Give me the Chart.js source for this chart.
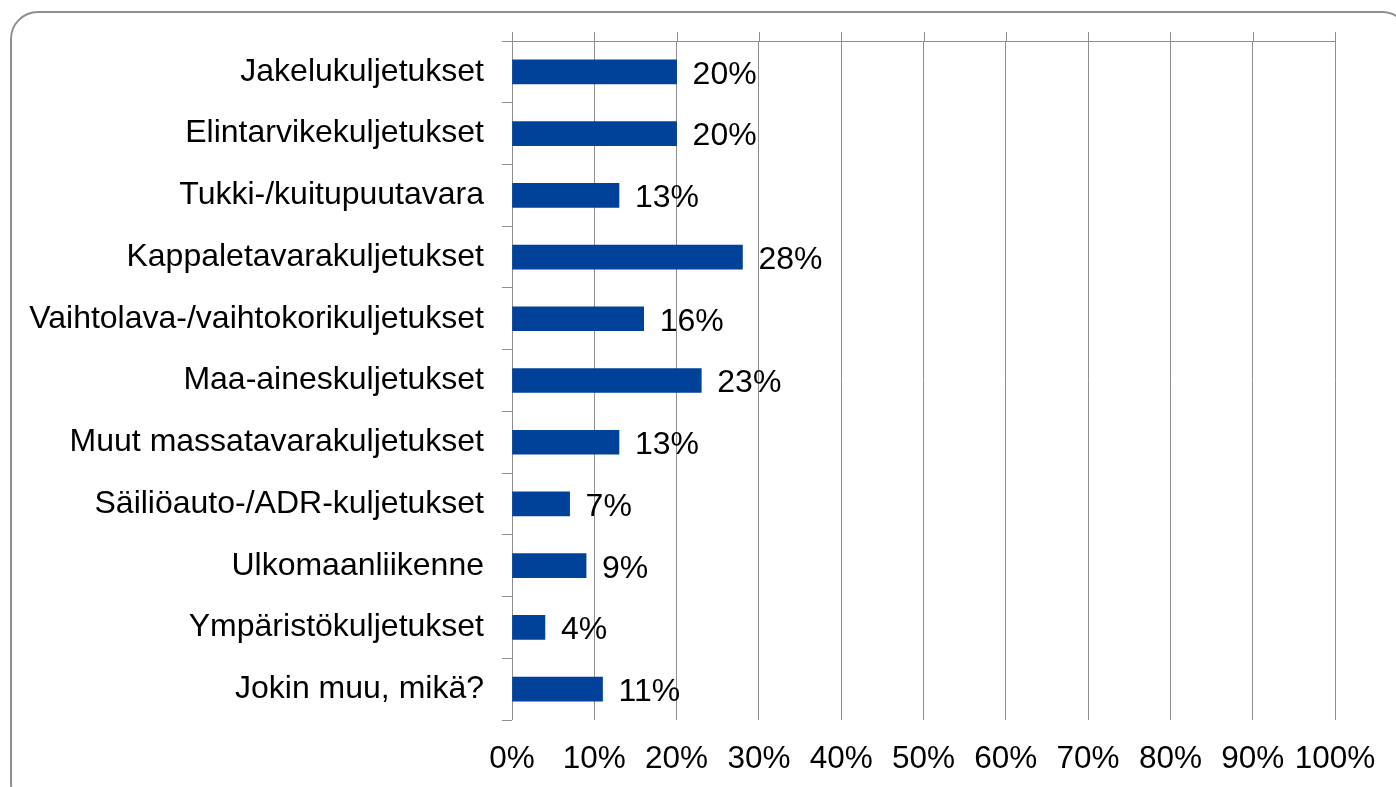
<!DOCTYPE html>
<html>
<head>
<meta charset="utf-8">
<script src="https://cdn.jsdelivr.net/npm/chart.js@4/dist/chart.umd.min.js"></script>
<style>
  html, body { margin: 0; padding: 0; background: #fff; }
  #wrap { position: relative; width: 1396px; height: 787px; overflow: hidden; }
  #frame {
    position: absolute; left: 10px; top: 11px; width: 1400px; height: 800px;
    border: 2px solid #8f8f8f; border-radius: 28px; box-sizing: border-box;
  }
  #chart { position: absolute; left: 0; top: 0; }
</style>
</head>
<body>
<div id="wrap">
  <div id="frame"></div>
  <canvas id="chart" width="1396" height="787"></canvas>
</div>
<script>
const categories = [
  "Jakelukuljetukset",
  "Elintarvikekuljetukset",
  "Tukki-/kuitupuutavara",
  "Kappaletavarakuljetukset",
  "Vaihtolava-/vaihtokorikuljetukset",
  "Maa-aineskuljetukset",
  "Muut massatavarakuljetukset",
  "Säiliöauto-/ADR-kuljetukset",
  "Ulkomaanliikenne",
  "Ympäristökuljetukset",
  "Jokin muu, mikä?"
];
const shares = [20, 20, 13, 28, 16, 23, 13, 7, 9, 4, 11];
const xTicks = [0, 10, 20, 30, 40, 50, 60, 70, 80, 90, 100];

const gridColor = "#8f8f8f";
const barColor = "#00419a";
const fontFamily = "'Liberation Sans', Arial, sans-serif";

// value labels to the right of each bar
const barLabels = {
  id: "barLabels",
  afterDatasetsDraw(chart) {
    const ctx = chart.ctx;
    const meta = chart.getDatasetMeta(0);
    ctx.save();
    ctx.font = `32px ${fontFamily}`;
    ctx.fillStyle = "#000";
    ctx.textAlign = "left";
    ctx.textBaseline = "middle";
    meta.data.forEach((bar, i) => {
      ctx.fillText(`${shares[i]}%`, bar.x + 16, bar.y + 3);
    });
    ctx.restore();
  }
};

// top border line and grid lines sticking a bit above the plot
const plotExtras = {
  id: "plotExtras",
  beforeDatasetsDraw(chart) {
    const ctx = chart.ctx;
    const area = chart.chartArea;
    const x = chart.scales.x;
    ctx.save();
    ctx.strokeStyle = gridColor;
    ctx.lineWidth = 1;
    ctx.beginPath();
    ctx.moveTo(area.left, area.top + 0.5);
    ctx.lineTo(area.right, area.top + 0.5);
    x.ticks.forEach(t => {
      const px = Math.round(x.getPixelForValue(t.value)) + 0.5;
      ctx.moveTo(px, area.top - 9);
      ctx.lineTo(px, area.top);
    });
    ctx.stroke();
    ctx.restore();
  }
};

new Chart(document.getElementById("chart"), {
  type: "bar",
  data: {
    labels: categories,
    datasets: [{
      data: shares,
      backgroundColor: barColor,
      barThickness: 24
    }]
  },
  plugins: [barLabels, plotExtras],
  options: {
    indexAxis: "y",
    responsive: false,
    maintainAspectRatio: false,
    animation: false,
    devicePixelRatio: 1,
    layout: { padding: { top: 41, right: 61, bottom: 0, left: 0 } },
    plugins: { legend: { display: false }, tooltip: { enabled: false } },
    scales: {
      x: {
        min: 0,
        max: 100,
        afterBuildTicks: s => { s.ticks = xTicks.map(v => ({ value: v })); },
        afterFit: s => { s.height = 67; },
        grid: { color: gridColor, drawTicks: false, tickLength: 0 },
        border: { display: false },
        ticks: {
          color: "#000",
          font: { family: fontFamily, size: 31.5 },
          padding: 20,
          autoSkip: false,
          maxRotation: 0,
          callback: v => `${v}%`
        }
      },
      y: {
        afterFit: s => { s.width = 512; },
        grid: { offset: true, drawOnChartArea: false, color: gridColor, tickLength: 10 },
        border: { display: false },
        ticks: {
          color: "#000",
          font: { family: fontFamily, size: 32 },
          padding: 18,
          autoSkip: false
        }
      }
    }
  }
});
</script>
</body>
</html>
